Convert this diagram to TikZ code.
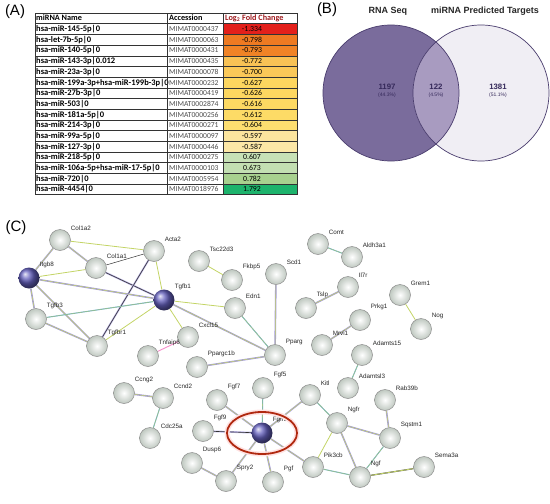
\documentclass[tikz,border=0pt]{standalone}
\usepackage{fontspec}
\setmainfont{Liberation Sans}
\newfontfamily\tabfont{Carlito}
\usetikzlibrary{backgrounds}
\definecolor{fc1}{HTML}{E3201B}
\definecolor{fc2}{HTML}{EE7A22}
\definecolor{fc3}{HTML}{F08326}
\definecolor{fc4}{HTML}{F8C255}
\definecolor{fc5}{HTML}{FAC858}
\definecolor{fc6}{HTML}{FDD65F}
\definecolor{fc7}{HTML}{FDD760}
\definecolor{fc8}{HTML}{FDD962}
\definecolor{fc9}{HTML}{FDDB66}
\definecolor{fc10}{HTML}{FDDE70}
\definecolor{fc11}{HTML}{FCE59E}
\definecolor{fc12}{HTML}{FCE7A6}
\definecolor{fc13}{HTML}{C7E1B6}
\definecolor{fc14}{HTML}{C3DFB2}
\definecolor{fc15}{HTML}{A8D18F}
\definecolor{fc16}{HTML}{1DB36C}
\definecolor{hdred}{HTML}{9E1A1E}
\definecolor{venL}{HTML}{7A6C9C}
\definecolor{venM}{HTML}{A89BC0}
\definecolor{venR}{HTML}{F0EEF4}
\definecolor{venE}{HTML}{4A3D6E}
\definecolor{venT}{HTML}{35295A}
\definecolor{lnP}{HTML}{A39ADF}
\definecolor{lnY}{HTML}{C3D466}
\definecolor{lnB}{HTML}{62A8CC}
\definecolor{ringR}{HTML}{B0280F}
\definecolor{protC}{HTML}{BFC8C0}
\begin{document}
\begin{tikzpicture}[x=1pt,y=-1pt,
    panel/.style={font=\fontsize{15}{18}\selectfont},
    tabname/.style={font=\tabfont\bfseries\fontsize{8.5}{10}\selectfont,anchor=base west,inner sep=0pt},
    tabhead/.style={font=\tabfont\bfseries\fontsize{8.2}{10}\selectfont,anchor=base west,inner sep=0pt},
    tabacc/.style={font=\tabfont\fontsize{7.6}{9}\selectfont,anchor=base west,inner sep=0pt,text=black!70},
    tabval/.style={font=\tabfont\fontsize{7.8}{9}\selectfont,anchor=base,inner sep=0pt},
    tabline/.style={draw=black!80,line width=0.5pt},
    prot/.style={circle,minimum size=21pt,inner sep=0pt,draw=black!45,line width=0.5pt,
      shading=radial,inner color=white,outer color=protC},
    hub/.style={circle,minimum size=21pt,inner sep=0pt,shading=ball,ball color={rgb,255:red,100;green,96;blue,190}},
    lbl/.style={font=\fontsize{6.3}{7}\selectfont,inner sep=1pt,xshift=2pt,yshift=1pt,text=black!85},
    ep/.style={draw=lnP,line width=1.6pt,postaction={draw=lnY,line width=0.5pt}},
    ey/.style={draw=lnY,line width=0.8pt},
    eb/.style={draw=lnB,line width=1pt,postaction={draw=lnY,line width=0.3pt}},
    ek/.style={draw=black!80,line width=0.6pt,preaction={draw=lnP!70,line width=1.8pt}},
    ekt/.style={draw=black!80,line width=0.5pt},
    epk/.style={draw=magenta!45,line width=0.9pt}]
  \useasboundingbox (0,0) rectangle (550,504);

  % (A) table
  \node[panel] (labA) at (15,12) {(A)};
  \foreach \nm/\acc/\val/\col [count=\i] in {
      hsa-miR-145-5p|0/MIMAT0000437/-1.334/fc1,
      hsa-let-7b-5p|0/MIMAT0000063/-0.798/fc2,
      hsa-miR-140-5p|0/MIMAT0000431/-0.793/fc3,
      hsa-miR-143-3p|0.012/MIMAT0000435/-0.772/fc4,
      hsa-miR-23a-3p|0/MIMAT0000078/-0.700/fc5,
      hsa-miR-199a-3p+hsa-miR-199b-3p|0/MIMAT0000232/-0.627/fc6,
      hsa-miR-27b-3p|0/MIMAT0000419/-0.626/fc7,
      hsa-miR-503|0/MIMAT0002874/-0.616/fc8,
      hsa-miR-181a-5p|0/MIMAT0000256/-0.612/fc9,
      hsa-miR-214-3p|0/MIMAT0000271/-0.604/fc10,
      hsa-miR-99a-5p|0/MIMAT0000097/-0.597/fc11,
      hsa-miR-127-3p|0/MIMAT0000446/-0.587/fc12,
      hsa-miR-218-5p|0/MIMAT0000275/0.607/fc13,
      hsa-miR-106a-5p+hsa-miR-17-5p|0/MIMAT0000103/0.673/fc14,
      hsa-miR-720|0/MIMAT0005954/0.782/fc15,
      hsa-miR-4454|0/MIMAT0018976/1.792/fc16}{
    \pgfmathsetmacro\yt{13+\i*10.69}
    \pgfmathsetmacro\yb{\yt+7.9}
    \fill[\col] (223,\yt) rectangle (297,\yt+10.69);
    \node[tabname] (name\i) at (36,\yb) {\nm};
    \node[tabacc] (acc\i) at (169,\yb) {\acc};
    \node[tabval] (val\i) at (252,\yb) {\val};
  }
  \node[tabhead] (hdname) at (36,20.9) {miRNA Name};
  \node[tabhead] (hdacc) at (169,20.9) {Accession};
  \node[tabhead,text=hdred] (hdval) at (225,20.9) {Log\textsubscript{2} Fold Change};
  \foreach \i in {1,...,16}
    \draw[tabline] (35,13+\i*10.69) -- (297,13+\i*10.69);
  \draw[tabline] (167,13) -- (167,194.73);
  \draw[tabline] (223,13) -- (223,194.73);
  \draw[tabline] (35,13) rectangle (297,194.73);

  % (B) venn
  \node[panel] (labB) at (327,10) {(B)};
  \node[font=\bfseries\fontsize{9}{11}\selectfont,text=black!85] (rnaseq) at (388,11) {RNA Seq};
  \node[font=\bfseries\fontsize{9}{11}\selectfont,text=black!85] (mitarg) at (485,11) {miRNA Predicted Targets};
  \fill[venL] (391,93) circle (68pt);
  \fill[venR] (481,93) circle (68pt);
  \begin{scope}
    \clip (391,93) circle (68pt);
    \fill[venM] (481,93) circle (68pt);
  \end{scope}
  \draw[venE,line width=0.7pt] (391,93) circle (68pt);
  \draw[venE,line width=0.7pt] (481,93) circle (68pt);
  \node[font=\bfseries\fontsize{7.8}{9}\selectfont,text=venT] (nL) at (387,87) {1197};
  \node[font=\fontsize{5}{6}\selectfont,text=venT] (pL) at (387,95) {(44.3\%)};
  \node[font=\bfseries\fontsize{7.8}{9}\selectfont,text=venT] (nM) at (436,87) {122};
  \node[font=\fontsize{5}{6}\selectfont,text=venT] (pM) at (436,95) {(4.5\%)};
  \node[font=\bfseries\fontsize{7.8}{9}\selectfont,text=venT] (nR) at (498,87) {1381};
  \node[font=\fontsize{5}{6}\selectfont,text=venT] (pR) at (498,95) {(51.1\%)};

  % (C) network
  \node[panel] (labC) at (16,228) {(C)};
  \node[prot,label={[lbl]45:Col1a2}] (col1a2) at (60,240) {};
  \node[prot,label={[lbl]45:Acta2}] (acta2) at (154,251) {};
  \node[prot,label={[lbl]45:Col1a1}] (col1a1) at (96,268) {};
  \node[hub,label={[lbl]45:Itgb8}] (itgb8) at (29,278) {};
  \node[hub,label={[lbl]45:Tgfb1}] (tgfb1) at (164,300) {};
  \node[prot,label={[lbl]45:Tgfb3}] (tgfb3) at (36,319) {};
  \node[prot,label={[lbl]45:Tgfbr1}] (tgfbr1) at (97,346) {};
  \node[prot,label={[lbl]45:Tsc22d3}] (tsc22d3) at (199,261) {};
  \node[prot,label={[lbl]45:Fkbp5}] (fkbp5) at (232,280) {};
  \node[prot,label={[lbl]45:Scd1}] (scd1) at (276,274) {};
  \node[prot,label={[lbl]45:Comt}] (comt) at (318,244) {};
  \node[prot,label={[lbl]45:Aldh3a1}] (aldh3a1) at (352,257) {};
  \node[prot,label={[lbl]45:Edn1}] (edn1) at (235,308) {};
  \node[prot,label={[lbl]45:Cxcl15}] (cxcl15) at (188,337) {};
  \node[prot,label={[lbl]45:Tnfaip6}] (tnfaip6) at (148,356) {};
  \node[prot,label={[lbl]45:Ppargc1b}] (ppargc1b) at (197,367) {};
  \node[prot,label={[lbl]45:Pparg}] (pparg) at (275,355) {};
  \node[prot,label={[lbl]45:Il7r}] (il7r) at (348,287) {};
  \node[prot,label={[lbl]45:Tslp}] (tslp) at (306,308) {};
  \node[prot,label={[lbl]45:Grem1}] (grem1) at (400,295) {};
  \node[prot,label={[lbl]45:Nog}] (nog) at (421,329) {};
  \node[prot,label={[lbl]45:Prkg1}] (prkg1) at (360,320) {};
  \node[prot,label={[lbl]45:Mrvi1}] (mrvi1) at (322,345) {};
  \node[prot,label={[lbl]45:Adamts15}] (adamts15) at (362,355) {};
  \node[prot,label={[lbl]45:Adamtsl3}] (adamtsl3) at (348,388) {};
  \node[prot,label={[lbl]45:Ccng2}] (ccng2) at (124,393) {};
  \node[prot,label={[lbl]45:Ccnd2}] (ccnd2) at (163,398) {};
  \node[prot,label={[lbl]45:Cdc25a}] (cdc25a) at (150,438) {};
  \node[prot,label={[lbl]45:Fgf7}] (fgf7) at (217,400) {};
  \node[prot,label={[lbl]45:Fgf5}] (fgf5) at (263,388) {};
  \node[prot,label={[lbl]45:Fgf9}] (fgf9) at (203,431) {};
  \node[hub,label={[lbl]45:Fgfr3}] (fgfr3) at (262,433) {};
  \node[prot,label={[lbl]45:Kitl}] (kitl) at (310,395) {};
  \node[prot,label={[lbl]45:Ngfr}] (ngfr) at (337,423) {};
  \node[prot,label={[lbl]45:Rab39b}] (rab39b) at (385,400) {};
  \node[prot,label={[lbl]45:Sqstm1}] (sqstm1) at (390,438) {};
  \node[prot,label={[lbl]45:Dusp6}] (dusp6) at (192,463) {};
  \node[prot,label={[lbl]45:Spry2}] (spry2) at (226,481) {};
  \node[prot,label={[lbl]45:Pgf}] (pgf) at (273,482) {};
  \node[prot,label={[lbl]45:Pik3cb}] (pik3cb) at (313,467) {};
  \node[prot,label={[lbl]45:Ngf}] (ngf) at (360,477) {};
  \node[prot,label={[lbl]45:Sema3a}] (sema3a) at (424,467) {};
  \draw[ringR,line width=1.8pt,preaction={draw=pink!45,line width=5pt}] (fgfr3) ellipse [x radius=35pt,y radius=21pt];

  \begin{scope}[on background layer]
    \draw[ey] (col1a2) -- (acta2);
    \draw[ep] (col1a2) -- (col1a1);
    \draw[ep] (col1a2) -- (itgb8);
    \draw[ekt] (col1a1) -- (acta2);
    \draw[ey] (col1a1) -- (itgb8);
    \draw[ek] (col1a1) -- (tgfb1);
    \draw[ek] (acta2) -- (tgfbr1);
    \draw[ey] (acta2) -- (tgfb1);
    \draw[ep] (itgb8) -- (tgfb1);
    \draw[ep] (itgb8) -- (tgfb3);
    \draw[ep] (itgb8) -- (tgfbr1);
    \draw[eb] (tgfb3) -- (tgfb1);
    \draw[ep] (tgfb3) -- (tgfbr1);
    \draw[ey] (tgfbr1) -- (tgfb1);
    \draw[ey] (tgfb1) -- (edn1);
    \draw[ey] (tgfb1) -- (cxcl15);
    \draw[ep] (tgfb1) -- (pparg);
    \draw[ey] (tsc22d3) -- (fkbp5);
    \draw[eb] (edn1) -- (pparg);
    \draw[ep] (scd1) -- (pparg);
    \draw[ep] (ppargc1b) -- (pparg);
    \draw[epk] (tnfaip6) -- (cxcl15);
    \draw[eb] (comt) -- (aldh3a1);
    \draw[ep] (tslp) -- (il7r);
    \draw[ep] (mrvi1) -- (prkg1);
    \draw[ey] (grem1) -- (nog);
    \draw[eb] (adamts15) -- (adamtsl3);
    \draw[ep] (ccng2) -- (ccnd2);
    \draw[eb] (ccnd2) -- (cdc25a);
    \draw[ep] (fgfr3) -- (fgf7);
    \draw[eb] (fgfr3) -- (fgf5);
    \draw[ek] (fgfr3) -- (fgf9);
    \draw[ep] (fgfr3) -- (kitl);
    \draw[ep] (fgfr3) -- (spry2);
    \draw[ep] (fgfr3) -- (pgf);
    \draw[ep] (fgfr3) -- (pik3cb);
    \draw[ep] (dusp6) -- (spry2);
    \draw[eb] (kitl) -- (ngfr);
    \draw[ep] (ngfr) -- (sqstm1);
    \draw[ey] (ngfr) -- (pik3cb);
    \draw[ep] (ngfr) -- (ngf);
    \draw[eb] (pik3cb) -- (ngf);
    \draw[eb] (ngf) -- (sqstm1);
    \draw[ey,preaction={draw=black!70,line width=1.2pt}] (ngf) -- (sema3a);
    \draw[ep] (rab39b) -- (sqstm1);
  \end{scope}
\end{tikzpicture}
\end{document}
